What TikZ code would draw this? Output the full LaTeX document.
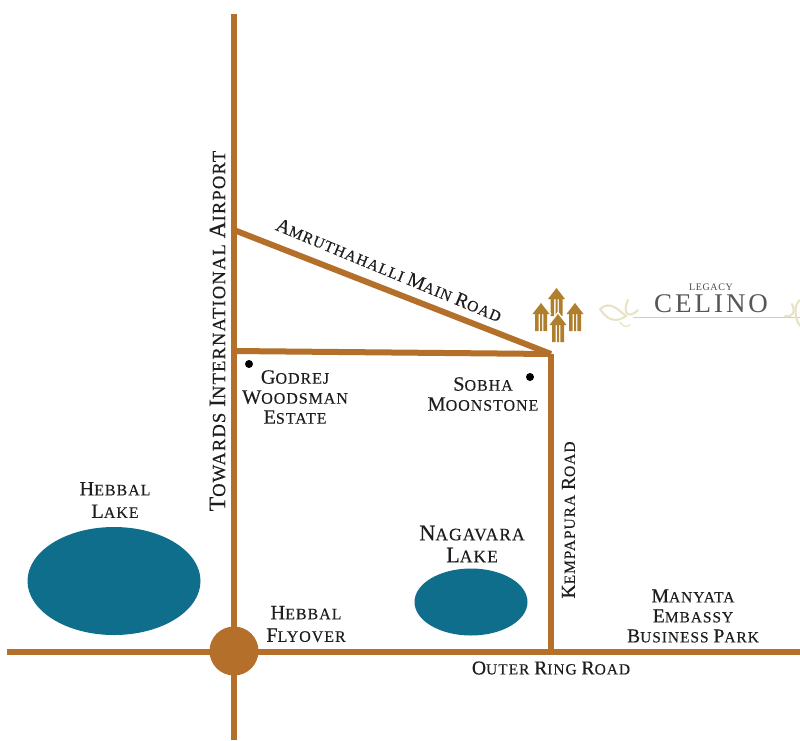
\documentclass[tikz,border=0pt]{standalone}
\usepackage{fontspec}
\setmainfont[LetterSpace=6,FakeBold=0.25]{Liberation Serif}
\newfontfamily\logofont[LetterSpace=6]{Liberation Serif}
\usetikzlibrary{calc,shapes.geometric}
\definecolor{road}{HTML}{B4702A}
\definecolor{lake}{HTML}{0F6E8C}
\definecolor{gold}{HTML}{B07F2E}
\definecolor{pale}{HTML}{E8E2C4}
\definecolor{inkc}{HTML}{1E1E1E}
\newcommand\Cp[1]{\scalebox{1.27}{#1}}
\tikzset{
  x=1pt,y=-1pt,
  roadline/.style={draw=road,line width=6pt},
  lab/.style={font=\fontsize{16}{22.5}\selectfont,text=inkc,align=center,inner sep=0pt},
  biglab/.style={font=\fontsize{17.5}{22}\selectfont,text=inkc,align=center,inner sep=0pt},
  airlab/.style={font=\fontsize{18.6}{22}\selectfont,text=inkc,align=center,inner sep=0pt},
  smalllab/.style={font=\fontsize{15.5}{20}\selectfont,text=inkc,align=center,inner sep=0pt},
  midlab/.style={font=\fontsize{16}{20}\selectfont,text=inkc,align=center,inner sep=0pt},
  lakeshape/.style={fill=lake,draw=none},
  spot/.style={circle,fill=black,minimum size=8pt,inner sep=0pt},
  house/.pic={
    \fill[white] (-10.5,-3) -- (0,-16.5) -- (10.5,-3) -- (8,-3) -- (8,16) -- (-8,16) -- (-8,-3) -- cycle;
    \fill[gold] (-8.5,-3) -- (0,-14) -- (8.5,-3) -- (6,-3) -- (6,14) -- (2.4,14) -- (2.4,-3) -- (1,-3) -- (1,14) -- (-1,14) -- (-1,-3) -- (-2.4,-3) -- (-2.4,14) -- (-6,14) -- (-6,-3) -- cycle;
  }
}
\begin{document}
\begin{tikzpicture}
\useasboundingbox (0,0) rectangle (800,740);
\fill[white] (0,0) rectangle (800,740);
% junctions
\coordinate (nTop) at (234,14);
\coordinate (nBot) at (234,740);
\coordinate (nW) at (7,652);
\coordinate (nE) at (800,652);
\coordinate (nA) at (234,230);
\coordinate (nB) at (234,351);
\coordinate (nC) at (551,354);
\coordinate (nD) at (551,652);
% lakes
\node[lakeshape,ellipse,minimum width=173pt,minimum height=108pt] (hebbalLake) at (114,581) {};
\node[lakeshape,ellipse,minimum width=113pt,minimum height=67pt] (nagavaraLake) at (471,602) {};
% roads
\draw[roadline] (nTop) -- (nBot);
\draw[roadline] (nW) -- (nE);
\draw[roadline] (nA) -- (nC);
\draw[roadline] (nB) -- (nC);
\draw[roadline] (nC) -- (nD);
\node[circle,fill=road,minimum size=49pt,inner sep=0pt] (flyover) at (234,651) {};
% dots
\node[spot] (dotG) at (249,364) {};
\node[spot] (dotS) at (530,377) {};
% labels
\node[airlab,rotate=90] (airport) at (217.5,331) {\Cp{T}OWARDS \Cp{I}NTERNATIONAL \Cp{A}IRPORT};
\node[smalllab,rotate=-22.5] (amr) at (389,270) {\Cp{A}MRUTHAHALLI \Cp{M}AIN \Cp{R}OAD};
\node[midlab] (godrej) at (295,397) {\Cp{G}ODREJ\\\Cp{W}OODSMAN\\\Cp{E}STATE};
\node[midlab] (sobha) at (483,394) {\Cp{S}OBHA\\\Cp{M}OONSTONE};
\node[lab] (hebbal) at (115,500) {\Cp{H}EBBAL\\\Cp{L}AKE};
\node[biglab] (nagavara) at (472,544) {\Cp{N}AGAVARA\\\Cp{L}AKE};
\node[lab] (hflyover) at (306,624) {\Cp{H}EBBAL\\\Cp{F}LYOVER};
\node[smalllab,rotate=90] (kemp) at (568.5,520) {\Cp{K}EMPAPURA \Cp{R}OAD};
\node[smalllab] (manyata) at (693,616) {\Cp{M}ANYATA\\\Cp{E}MBASSY\\\Cp{B}USINESS \Cp{P}ARK};
\node[smalllab] (orr) at (551,668) {\Cp{O}UTER \Cp{R}ING \Cp{R}OAD};
% logo
\pic at (556.5,302) {house};
\pic at (541,317) {house};
\pic at (575,317) {house};
\pic at (558,328) {house};
\node[font=\logofont\fontsize{10}{12}\selectfont,text=inkc!80,inner sep=0pt] (legacy) at (711,287) {LEGACY};
\node[font=\logofont\fontsize{27}{28}\selectfont,text=inkc!75,inner sep=0pt] (celino) at (711,304) {C\kern3pt E\kern3pt L\kern3pt I\kern3pt N\kern3pt O};
\coordinate (ruleL) at (633,317);
\coordinate (ruleR) at (800,317);
\draw[pale!80!gray,line width=.8pt] (ruleL) -- (ruleR);
\draw[pale,line width=2pt,line cap=round] (600,309) .. controls (610,300) and (618,310) .. (626,316) .. controls (618,322) and (608,322) .. (600,309);
\draw[pale,line width=2pt,line cap=round] (628,300) .. controls (622,312) and (628,320) .. (638,310);
\draw[pale,line width=1.2pt,line cap=round] (620,322) .. controls (622,326) and (626,328) .. (630,325);
\draw[pale,line width=2pt,line cap=round] (785,316) .. controls (792,318) and (796,312) .. (792,304);
\draw[pale,line width=2pt,line cap=round] (800,300) .. controls (794,304) and (794,318) .. (800,326);
\end{tikzpicture}
\end{document}
